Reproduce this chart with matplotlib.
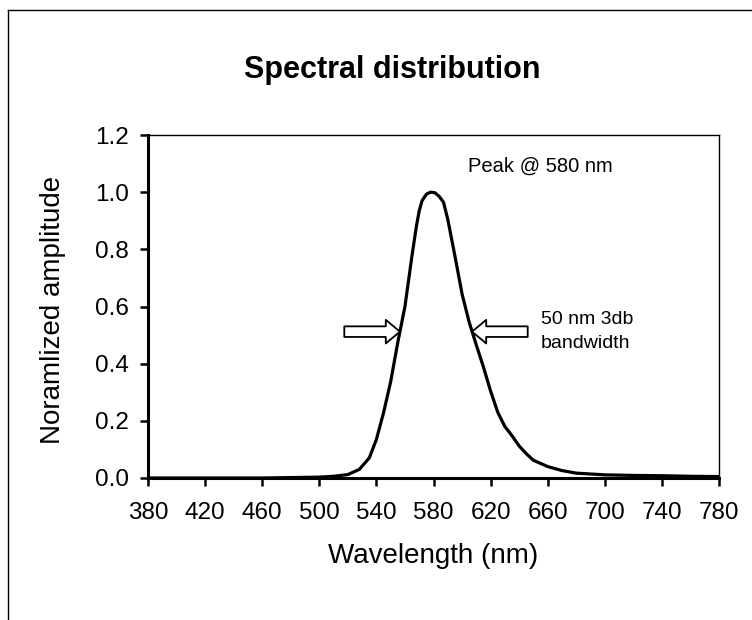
import matplotlib
matplotlib.use("Agg")
import matplotlib.pyplot as plt
from matplotlib.lines import Line2D

plt.rcParams['font.family'] = ['Liberation Sans', 'DejaVu Sans']

# Data
wavelength = [380, 420, 460, 500, 510, 520, 528, 535, 540, 545, 550, 555, 560,
              565, 568, 570, 572, 575, 578, 581, 584, 587, 590, 595, 600, 605,
              610, 615, 620, 625, 630, 635, 640, 645, 650, 660, 670, 680, 700,
              720, 740, 760, 780]
amplitude = [0.0, 0.0, 0.0, 0.003, 0.006, 0.012, 0.03, 0.07, 0.135, 0.228, 0.337,
             0.475, 0.60, 0.78, 0.88, 0.935, 0.97, 0.993, 1.0, 0.998, 0.985, 0.965,
             0.905, 0.777, 0.644, 0.545, 0.465, 0.388, 0.304, 0.23, 0.18, 0.148,
             0.112, 0.085, 0.062, 0.04, 0.026, 0.017, 0.011, 0.009, 0.008, 0.006,
             0.005]
x_ticks = [380, 420, 460, 500, 540, 580, 620, 660, 700, 740, 780]
y_ticks = [0.0, 0.2, 0.4, 0.6, 0.8, 1.0, 1.2]

title = "Spectral distribution"
x_label = "Wavelength (nm)"
y_label = "Noramlized amplitude"
peak_text = "Peak @ 580 nm"
bw_text = "50 nm 3db\nbandwidth"

fig = plt.figure(figsize=(7.52, 6.2), dpi=100)
ax = fig.add_axes([148 / 752, 1 - 478 / 620, (719 - 148) / 752, (478 - 135) / 620])

ax.plot(wavelength, amplitude, color='black', lw=2.3, solid_joinstyle='round')
ax.set_xlim(380, 780)
ax.set_ylim(0, 1.2)
ax.set_xticks(x_ticks)
ax.set_yticks(y_ticks)
ax.set_yticklabels([f"{v:.1f}" for v in y_ticks])

for s in ['left', 'bottom']:
    ax.spines[s].set_linewidth(2.2)
for s in ['top', 'right']:
    ax.spines[s].set_linewidth(1.0)
ax.tick_params(axis='both', direction='out', length=6, width=1.8, labelsize=17.5)
ax.tick_params(axis='x', pad=11)
ax.tick_params(axis='y', pad=8)

ax.set_xlabel(x_label, fontsize=20, labelpad=14)
ax.set_ylabel(y_label, fontsize=20)
ax.yaxis.label.set_va('center')
ax.yaxis.set_label_coords((53 - 148) / 571, 0.49)

fig.text(392 / 752, 1 - 70 / 620, title, fontsize=22, fontweight='bold',
         ha='center', va='center')

ax.text(655, 1.092, peak_text, fontsize=14.5, ha='center', va='center')
ax.text(655, 0.512, bw_text, fontsize=14, ha='left', va='center', linespacing=1.5)

arrow_style = 'simple,head_length=0.6,head_width=1.0,tail_width=0.45'
ax.annotate('', xy=(556.5, 0.512), xytext=(517.5, 0.512),
            arrowprops=dict(arrowstyle=arrow_style, fc='white', ec='black',
                            lw=1.3, mutation_scale=17, shrinkA=0, shrinkB=0))
ax.annotate('', xy=(607.0, 0.512), xytext=(646.0, 0.512),
            arrowprops=dict(arrowstyle=arrow_style, fc='white', ec='black',
                            lw=1.3, mutation_scale=17, shrinkA=0, shrinkB=0))

# outer frame (top and left edges)
fig.add_artist(Line2D([8 / 752, 1.0], [1 - 10 / 620, 1 - 10 / 620],
                      transform=fig.transFigure, color='black', lw=1.0))
fig.add_artist(Line2D([8 / 752, 8 / 752], [0.0, 1 - 10 / 620],
                      transform=fig.transFigure, color='black', lw=1.0))

fig.savefig('out.png', dpi=100)
